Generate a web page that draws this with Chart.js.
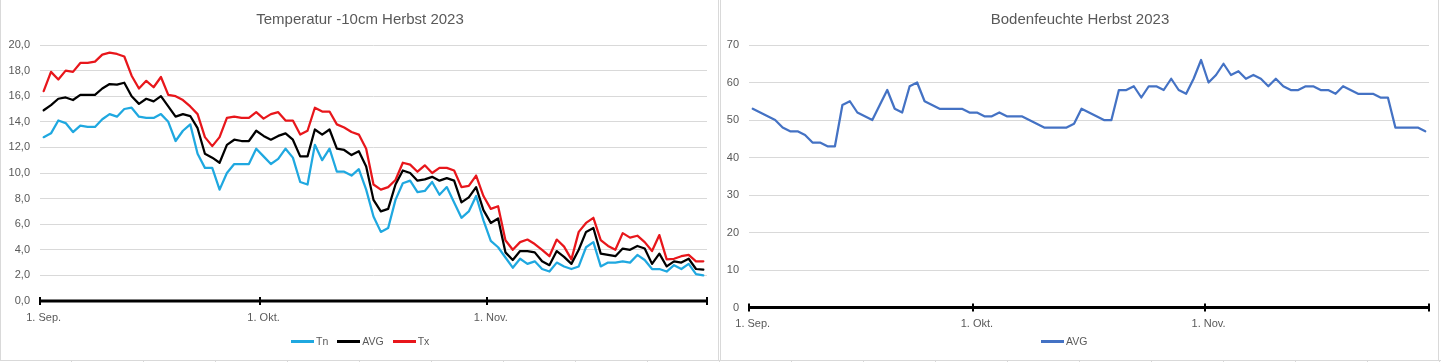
<!DOCTYPE html>
<html>
<head>
<meta charset="utf-8">
<script src="https://cdn.jsdelivr.net/npm/chart.js@4/dist/chart.umd.min.js"></script>
<style>
  html, body { margin: 0; padding: 0; background: #fff; }
  body { width: 1441px; height: 362px; position: relative; overflow: hidden;
         font-family: "Liberation Sans", Arial, sans-serif; color: #595959; }
  .sheet { position: absolute; left: 0; top: 360px; width: 1441px; height: 2px; border-top: 1px solid #d9d9d9;
           background: repeating-linear-gradient(to right, transparent 0 71px, #d9d9d9 71px 72px); }
  .panel { position: absolute; top: 0; height: 360px; box-sizing: border-box;
           border-left: 1px solid #d9d9d9; border-right: 1px solid #d9d9d9; background: #fff; }
  canvas { position: absolute; top: 0; }
  .title { position: absolute; top: 10px; font-size: 15px; line-height: 18px; white-space: nowrap; transform: translateX(-50%); }
  .legend { position: absolute; top: 334px; display: flex; gap: 9px; font-size: 10.5px; line-height: 15px; }
  .legend span { display: flex; align-items: center; }
  .legend i { display: inline-block; width: 23px; height: 2.5px; margin-right: 2px; }
</style>
</head>
<body>
<div class="sheet"></div>
<div class="panel" style="left:0;width:719px"></div>
<div class="panel" style="left:720px;width:719px"></div>
<canvas id="c-temp" width="718" height="362" style="left:0"></canvas>
<canvas id="c-soil" width="721" height="362" style="left:720px"></canvas>
<div class="title" style="left:360px">Temperatur -10cm Herbst 2023</div>
<div class="title" style="left:1080px">Bodenfeuchte Herbst 2023</div>
<div class="legend" id="lg-temp" style="left:291px"></div>
<div class="legend" id="lg-soil" style="left:1041px"></div>
<script>
const $ = id => document.getElementById(id);

// x axis: days since 1. Sep. (Sep 1 .. Nov 30, one value per day)
const tickDays = [0, 30, 61, 91];
const tickLabels = ['1. Sep.', '1. Okt.', '1. Nov.', ''];

// Temperatur -10cm
const tn = [12.8, 13.1, 14.1, 13.9, 13.2, 13.7, 13.6, 13.6, 14.2, 14.6, 14.4, 15.0, 15.1, 14.4, 14.3, 14.3, 14.6, 14.0, 12.5, 13.3,
  13.8, 11.5, 10.4, 10.4, 8.7, 10.0, 10.7, 10.7, 10.7, 11.9, 11.3, 10.7, 11.1, 11.9, 11.2, 9.3, 9.1, 12.2, 11.0, 11.9,
  10.1, 10.1, 9.8, 10.3, 8.7, 6.6, 5.4, 5.7, 7.9, 9.2, 9.4, 8.5, 8.6, 9.3, 8.3, 8.9, 7.7, 6.5, 7.0, 8.2,
  6.3, 4.7, 4.2, 3.4, 2.6, 3.3, 2.9, 3.1, 2.5, 2.3, 3.0, 2.7, 2.5, 2.7, 4.2, 4.6, 2.7, 3.0, 3.0, 3.1,
  3.0, 3.6, 3.2, 2.5, 2.5, 2.3, 2.8, 2.5, 2.9, 2.1, 2.0];
const avgT = [14.9, 15.3, 15.8, 15.9, 15.7, 16.1, 16.1, 16.1, 16.6, 16.95, 16.9, 17.05, 16.0, 15.4, 15.8, 15.6, 16.0, 15.2, 14.4, 14.6,
  14.45, 13.5, 11.5, 11.2, 10.8, 12.2, 12.6, 12.5, 12.5, 13.3, 12.9, 12.6, 12.9, 13.1, 12.6, 11.3, 11.3, 13.4, 13.0, 13.4,
  11.9, 11.8, 11.4, 11.7, 10.5, 7.9, 7.0, 7.2, 9.1, 10.2, 10.0, 9.4, 9.5, 9.7, 9.4, 9.6, 9.4, 7.7, 8.1, 8.9,
  7.1, 6.1, 6.45, 3.8, 3.2, 3.9, 3.9, 3.8, 3.1, 2.8, 3.9, 3.45, 2.9, 4.0, 5.4, 5.7, 3.7, 3.6, 3.5, 4.1,
  4.0, 4.3, 4.1, 2.9, 3.7, 2.7, 3.1, 3.0, 3.3, 2.5, 2.45];
const tx = [16.4, 17.9, 17.3, 18.0, 17.9, 18.6, 18.6, 18.7, 19.25, 19.4, 19.3, 19.1, 17.6, 16.6, 17.2, 16.7, 17.5, 16.1, 16.0, 15.7,
  15.2, 14.6, 12.8, 12.1, 12.8, 14.3, 14.4, 14.3, 14.3, 14.75, 14.25, 14.6, 14.75, 14.1, 14.1, 13.0, 13.3, 15.1, 14.8, 14.8,
  13.8, 13.55, 13.2, 13.0, 11.9, 9.1, 8.7, 8.9, 9.45, 10.8, 10.65, 10.1, 10.6, 10.0, 10.4, 10.4, 10.2, 8.9, 9.0, 9.8,
  8.2, 7.2, 7.4, 4.75, 4.0, 4.6, 4.8, 4.45, 4.0, 3.5, 4.8, 4.25, 3.25, 5.4, 6.1, 6.5, 4.75, 4.3, 4.0, 5.3,
  4.95, 5.1, 4.6, 3.9, 5.15, 3.25, 3.3, 3.5, 3.6, 3.1, 3.1];

// Bodenfeuchte
const soil = [53, 52, 51, 50, 48, 47, 47, 46, 44, 44, 43, 43, 54, 55, 52, 51, 50, 54, 58, 53,
  52, 59, 60, 55, 54, 53, 53, 53, 53, 52, 52, 51, 51, 52, 51, 51, 51, 50, 49, 48,
  48, 48, 48, 49, 53, 52, 51, 50, 50, 58, 58, 59, 56, 59, 59, 58, 61, 58, 57, 61,
  66, 60, 62, 65, 62, 63, 61, 62, 61, 59, 61, 59, 58, 58, 59, 59, 58, 58, 57, 59,
  58, 57, 57, 57, 56, 56, 48, 48, 48, 48, 47];

const font = { family: '"Liberation Sans", Arial, sans-serif', size: 11 };

// Excel-style axis: thick black base line with crossing tick marks at month boundaries
const axisLine = {
  id: 'axisLine',
  beforeDatasetsDraw(chart) {
    const { ctx, chartArea: a, scales: { x, y } } = chart;
    const y0 = y.getPixelForValue(0);
    ctx.save();
    ctx.strokeStyle = '#000';
    ctx.lineWidth = 3;
    ctx.beginPath(); ctx.moveTo(a.left, y0); ctx.lineTo(a.right, y0); ctx.stroke();
    ctx.lineWidth = 2;
    ctx.beginPath();
    tickDays.forEach(d => { const px = Math.round(x.getPixelForValue(d)); ctx.moveTo(px, y0 - 4); ctx.lineTo(px, y0 + 4); });
    ctx.stroke();
    ctx.restore();
  }
};

const ds = (label, values, color) => ({
  label, data: values.map((v, i) => ({ x: i + 0.5, y: v })),
  borderColor: color, backgroundColor: color, borderWidth: 2.25,
  pointRadius: 0, tension: 0, borderJoinStyle: 'round', borderCapStyle: 'round'
});

function opts({ max, step, fmt, yWidth, right, xHeight }) {
  return {
    responsive: false, animation: false, events: [],
    layout: { padding: { top: 45, right, bottom: 0, left: 0 } },
    plugins: { legend: { display: false }, tooltip: { enabled: false } },
    scales: {
      x: {
        type: 'linear', min: 0, max: tickDays[tickDays.length - 1],
        afterBuildTicks: s => { s.ticks = tickDays.slice(0, -1).map(d => ({ value: d + 0.5 })); },
        afterFit: s => { s.height = xHeight; },
        grid: { display: false }, border: { display: false },
        ticks: { padding: 2, color: '#595959', font, maxRotation: 0, autoSkip: false,
                 callback: v => tickLabels[tickDays.indexOf(v - 0.5)] }
      },
      y: {
        min: 0, max,
        afterFit: s => { s.width = yWidth; },
        grid: { color: '#d9d9d9', lineWidth: 1, drawTicks: false }, border: { display: false },
        ticks: { stepSize: step, padding: 10, color: '#595959', font, callback: fmt }
      }
    }
  };
}

function legend(el, sets) {
  el.innerHTML = sets.map(s => `<span><i style="background:${s.borderColor}"></i>${s.label}</span>`).join('');
}

const tempSets = [ds('Tn', tn, '#1FA8E0'), ds('AVG', avgT, '#000000'), ds('Tx', tx, '#E8161B')];
new Chart($('c-temp'), {
  type: 'line',
  data: { datasets: tempSets },
  options: opts({ max: 20, step: 2, fmt: v => v.toFixed(1).replace('.', ','), yWidth: 40, right: 11, xHeight: 61 }),
  plugins: [axisLine]
});
legend($('lg-temp'), tempSets);

const soilSets = [ds('AVG', soil, '#4472C4')];
new Chart($('c-soil'), {
  type: 'line',
  data: { datasets: soilSets },
  options: opts({ max: 70, step: 10, fmt: v => String(v), yWidth: 29, right: 12, xHeight: 54.5 }),
  plugins: [axisLine]
});
legend($('lg-soil'), soilSets);
</script>
</body>
</html>
